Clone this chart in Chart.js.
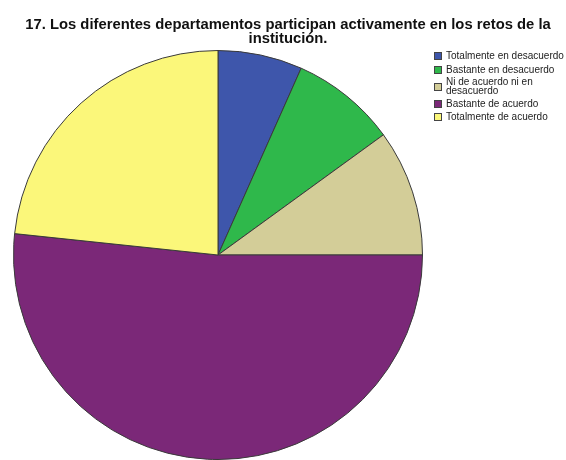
<!DOCTYPE html>
<html>
<head>
<meta charset="utf-8">
<script src="https://cdn.jsdelivr.net/npm/chart.js@4/dist/chart.umd.min.js"></script>
<style>
  html, body { margin: 0; padding: 0; background: #fff; }
  #wrap { width: 566px; height: 460px; }
</style>
</head>
<body>
<div id="wrap"><canvas id="pieCanvas" width="566" height="460"></canvas></div>
<script>
// === DONNÉES ===
const TITRE = ["17. Los diferentes departamentos participan activamente en los retos de la", "institución."];
const CATEGORIES = [
    ["Totalmente en desacuerdo"],
    ["Bastante en desacuerdo"],
    ["Ni de acuerdo ni en", "desacuerdo"],
    ["Bastante de acuerdo"],
    ["Totalmente de acuerdo"]
];
const EFFECTIFS = [4, 5, 6, 31, 14];
const COULEURS = ["#3e56ab", "#2fb84b", "#d3cd98", "#7b2878", "#fbf77a"];

// Titre et légende dessinés à la main (légende à droite, style SPSS)
const titreLegende = {
    id: "titreLegende",
    afterDraw(chart) {
        const ctx = chart.ctx;
        ctx.save();
        ctx.fillStyle = "#111";
        ctx.textAlign = "center";
        ctx.textBaseline = "middle";
        ctx.font = "bold 14.8px 'Liberation Sans', Arial, sans-serif";
        TITRE.forEach((ligne, i) => ctx.fillText(ligne, 288, 25 + i * 14));

        // Légende
        const lignesY = [56, 70, 87, 104, 117];
        ctx.font = "10px 'Liberation Sans', Arial, sans-serif";
        ctx.textAlign = "left";
        chart.data.labels.forEach((label, i) => {
            const y = lignesY[i];
            ctx.fillStyle = COULEURS[i];
            ctx.fillRect(434, y - 4, 8, 8);
            ctx.strokeStyle = "#444";
            ctx.lineWidth = 1;
            ctx.strokeRect(434.5, y - 3.5, 7, 7);
            ctx.fillStyle = "#222";
            const debut = y - (label.length - 1) * 4.5;
            label.forEach((txt, j) => ctx.fillText(txt, 446, debut + j * 9));
        });
        ctx.restore();
    }
};

const pieChart = new Chart(document.getElementById("pieCanvas").getContext("2d"), {
    type: "pie",
    data: {
        labels: CATEGORIES,
        datasets: [{
            data: EFFECTIFS,
            backgroundColor: COULEURS,
            borderColor: "#3a3a3a",
            borderWidth: 1
        }]
    },
    options: {
        responsive: false,
        animation: false,
        layout: { padding: { left: 12, right: 142, top: 50, bottom: -2 } },
        plugins: {
            legend: { display: false },
            title: { display: false },
            tooltip: { enabled: false }
        }
    },
    plugins: [titreLegende]
});
</script>
</body>
</html>
